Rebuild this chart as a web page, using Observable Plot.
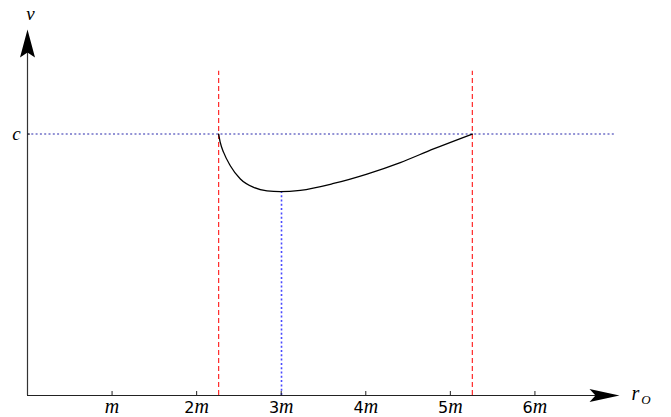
<!DOCTYPE html>
<html>
<head>
<meta charset="utf-8">
<script src="https://cdn.jsdelivr.net/npm/d3@7"></script>
<script src="https://cdn.jsdelivr.net/npm/@observablehq/plot@0.6"></script>
<style>
  html, body { margin: 0; padding: 0; background: #fff; }
  svg { display: block; }
</style>
</head>
<body>
<script>
// ---- data ----
const xTicks = [1, 2, 3, 4, 5, 6];
const xTickLabels = ["m", "2m", "3m", "4m", "5m", "6m"];
const yTicks = [1];
const yTickLabels = ["c"];
const horizonX = [2.26, 5.26];        // red dashed verticals (in units of m)
const horizonTop = 1.24;              // upper end of red dashed lines (in units of c)
const cLevel = 1;                     // v = c
const cLineEnd = 6.96;
const minX = 3;                       // r_O = 3m
const minV = 0.78;                    // minimum speed (in units of c)
const curveX = [2.26, 2.28, 2.319, 2.398, 2.517, 2.674, 2.832, 2.989, 3.226, 3.619, 4.014, 4.408, 4.801, 5.26];
const curveV = [1.0, 0.967, 0.930, 0.879, 0.828, 0.796, 0.783, 0.780, 0.785, 0.811, 0.847, 0.891, 0.943, 1.0];
const xMax = 7, yMax = 1.4;

const curve = curveX.map((x, i) => ({x, v: curveV[i]}));

// stealth-like arrowheads (tip at origin)
const arrowRight = {draw(ctx) { ctx.moveTo(0, 0); ctx.lineTo(-30, -6.5); ctx.lineTo(-24, 0); ctx.lineTo(-30, 6.5); ctx.closePath(); }};
const arrowUp = {draw(ctx) { ctx.moveTo(0, 0); ctx.lineTo(-7.5, 28); ctx.lineTo(0, 23); ctx.lineTo(7.5, 28); ctx.closePath(); }};

const serif = "Liberation Serif, DejaVu Serif, serif";
const sans = "DejaVu Sans, Liberation Sans, sans-serif";

const plot = Plot.plot({
  width: 671,
  height: 417,
  marginLeft: 27,
  marginRight: 52,
  marginTop: 29,
  marginBottom: 22,
  x: {domain: [0, xMax], axis: null},
  y: {domain: [0, yMax], axis: null},
  marks: [
    // reference lines
    Plot.ruleY([cLevel], {x1: 0, x2: cLineEnd, stroke: "#7070c8", strokeWidth: 1.4, strokeDasharray: "2,2.3"}),
    Plot.ruleX([minX], {x: d => d, y1: 0, y2: minV, dx: 0.3, stroke: "#4a4aff", strokeWidth: 1.6, strokeDasharray: "2,2.3"}),
    Plot.ruleX(horizonX, {y1: 0, y2: horizonTop, stroke: "#ff2a2a", strokeWidth: 1.2, strokeDasharray: "5,3"}),
    // curve
    Plot.line(curve, {x: "x", y: "v", stroke: "black", strokeWidth: 1.3, curve: "monotone-x"}),
    // axes
    Plot.ruleY([0], {x1: 0, x2: xMax - 0.2, stroke: "#222", strokeWidth: 1.2}),
    Plot.ruleX([0], {y1: 0, y2: yMax - 0.05, stroke: "#333", strokeWidth: 1.2}),
    Plot.dot([0], {x: xMax, y: 0, symbol: arrowRight, fill: "black", stroke: null}),
    Plot.dot([0], {x: 0, y: yMax, symbol: arrowUp, fill: "black", stroke: null}),
    // ticks
    Plot.ruleX(xTicks, {x: d => d, y1: 0, y2: 0, insetTop: -4, stroke: "#222", strokeWidth: 1}),
    Plot.ruleY(yTicks, {y: d => d, x1: 0, x2: 0, insetRight: -3, stroke: "#222", strokeWidth: 1}),
    // tick labels
    Plot.text(xTicks, {x: d => d, y: 0, dy: 12, text: (d, i) => xTickLabels[i], fontSize: 16, fill: "black"}),
    Plot.text(yTicks, {x: 0, y: d => d, dx: -11, text: (d, i) => yTickLabels[i], fontSize: 19, fill: "black"}),
    // axis labels
    Plot.text(["v"], {x: 0, y: yMax, dx: 3, dy: -16, text: d => d, fontSize: 19, fill: "black"}),
    Plot.text(["r"], {x: xMax, y: 0, dx: 16, dy: -2, text: d => d, fontSize: 20, fill: "black"}),
    Plot.text(["O"], {x: xMax, y: 0, dx: 26.5, dy: 4, text: d => d, fontSize: 13, fill: "black"})
  ]
});

// restyle texts: italic serif variables, upright digits
d3.select(plot).selectAll("text").each(function() {
  const t = this.textContent;
  const sel = d3.select(this);
  const m = t.match(/^(\d*)([a-zA-Z])$/);
  if (!m) return;
  this.textContent = "";
  if (m[1]) sel.append("tspan").style("font-family", sans).style("font-style", "normal").text(m[1]);
  sel.append("tspan").style("font-family", serif).style("font-style", "italic")
     .style("font-size", m[2] === "m" ? "20px" : null).text(m[2]);
});

document.body.appendChild(plot);
</script>
</body>
</html>
